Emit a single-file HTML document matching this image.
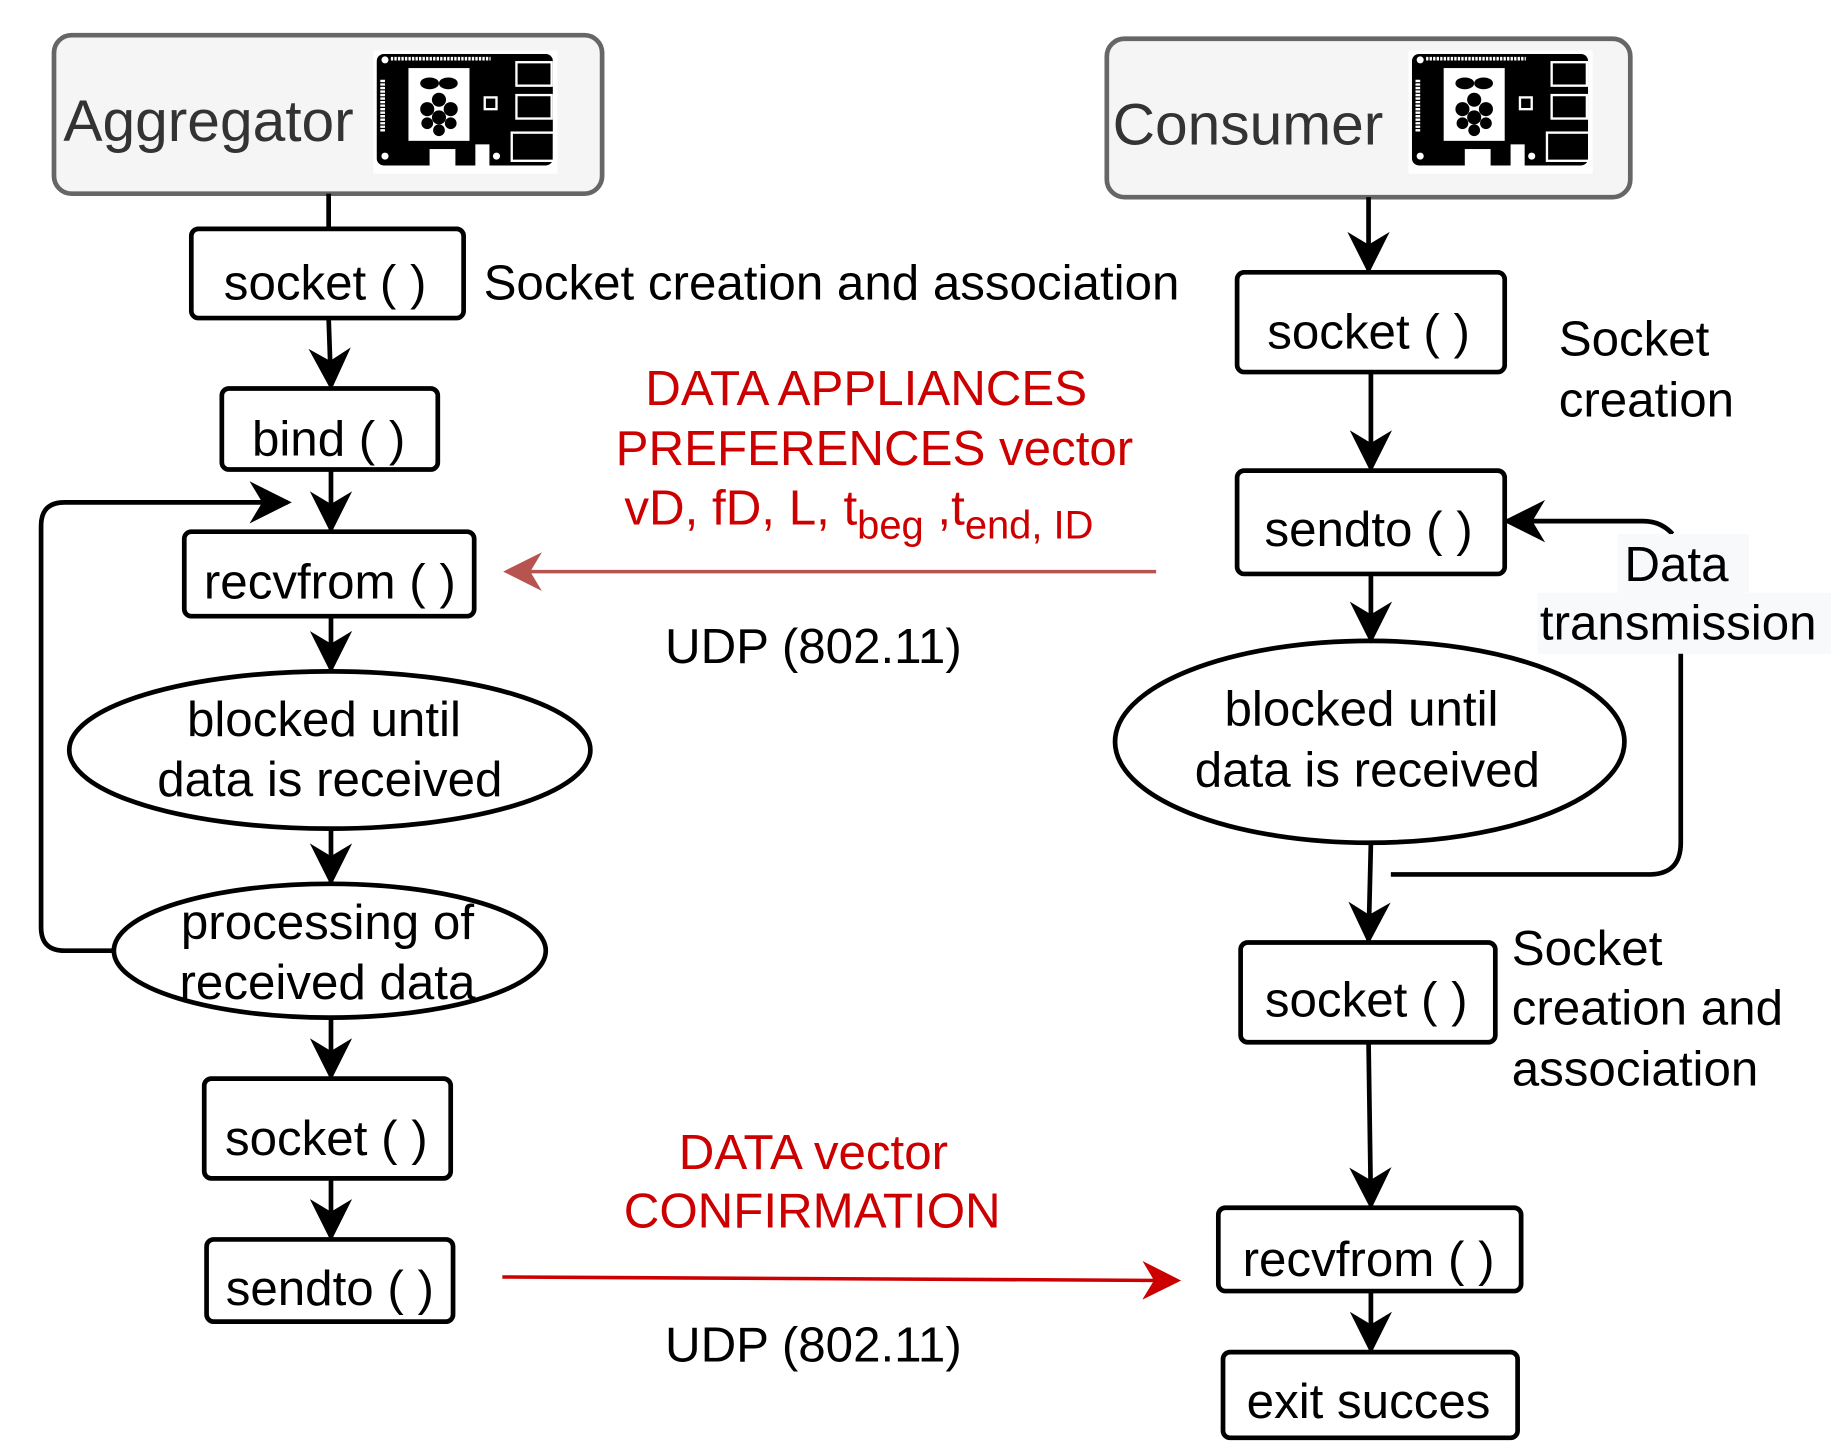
<!DOCTYPE html>
<html><head><meta charset="utf-8"><style>
html,body{margin:0;padding:0;background:#fff;}
svg{display:block;}
text{font-family:"Liberation Sans",Arial,sans-serif;font-size:42px;fill:#000;}
.r{fill:#cc0000;}
</style></head><body>
<svg width="1831" height="1450" viewBox="0 0 1560 1235.4" preserveAspectRatio="none" xmlns="http://www.w3.org/2000/svg">
<defs>
<marker id="a" markerWidth="9" markerHeight="9" refX="9" refY="5" orient="auto" markerUnits="strokeWidth" viewBox="0 0 10 10"><path d="M0,0 L10,5 L0,10 L3,5 z" fill="#000"/></marker>
<marker id="ar" markerWidth="11" markerHeight="11" refX="9" refY="5" orient="auto" markerUnits="strokeWidth" viewBox="0 0 10 10"><path d="M0,0 L10,5 L0,10 L3,5 z" fill="#cc0000"/></marker>
<marker id="ab" markerWidth="11" markerHeight="11" refX="9" refY="5" orient="auto" markerUnits="strokeWidth" viewBox="0 0 10 10"><path d="M0,0 L10,5 L0,10 L3,5 z" fill="#b85450"/></marker>
<g id="pi">
<rect x="0" y="0" width="157" height="105" fill="#fff"/>
<rect x="3" y="3" width="150" height="95" rx="6" fill="#000"/>
<rect x="30" y="15" width="52" height="62" fill="#fff"/>
<g fill="#000">
<circle cx="56" cy="42" r="6"/><circle cx="46" cy="50" r="6"/><circle cx="66" cy="50" r="6"/><circle cx="56" cy="57" r="6"/><circle cx="46" cy="62" r="5"/><circle cx="66" cy="62" r="5"/><circle cx="56" cy="68" r="5"/>
<ellipse cx="48" cy="28" rx="8" ry="5"/><ellipse cx="64" cy="28" rx="8" ry="5"/>
</g>
<rect x="95" y="40" width="10" height="10" fill="none" stroke="#fff" stroke-width="2"/>
<rect x="122" y="10" width="30" height="20" fill="none" stroke="#fff" stroke-width="2"/>
<rect x="122" y="38" width="30" height="20" fill="none" stroke="#fff" stroke-width="2"/>
<rect x="118" y="70" width="36" height="24" fill="none" stroke="#fff" stroke-width="2"/>
<line x1="15" y1="7" x2="100" y2="7" stroke="#fff" stroke-width="3" stroke-dasharray="2,1"/>
<line x1="8" y1="25" x2="8" y2="70" stroke="#fff" stroke-width="4" stroke-dasharray="2,1"/>
<rect x="48" y="84" width="22" height="14" fill="#fff"/><rect x="87" y="80" width="12" height="18" fill="#fff"/>
<circle cx="10" cy="8" r="3" fill="#fff"/><circle cx="10" cy="90" r="3" fill="#fff"/><circle cx="105" cy="90" r="3" fill="#fff"/>
</g>
</defs>

<rect x="46" y="30" width="467" height="135" rx="15" fill="#f5f5f5" stroke="#666" stroke-width="4"/>
<text x="54" y="120" style="font-size:50px;fill:#333">Aggregator</text>
<use href="#pi" x="318" y="43"/>
<rect x="943" y="33" width="446" height="135" rx="15" fill="#f5f5f5" stroke="#666" stroke-width="4"/>
<text x="948" y="123" style="font-size:50px;fill:#333">Consumer</text>
<use href="#pi" x="1200" y="43"/>

<g fill="#fff" stroke="#000" stroke-width="4">
<rect x="163" y="195" width="232" height="76" rx="6"/>
<rect x="189" y="331" width="184" height="69" rx="6"/>
<rect x="157" y="453" width="247" height="72" rx="6"/>
<ellipse cx="281" cy="639" rx="222" ry="67"/>
<ellipse cx="281" cy="810" rx="184" ry="57"/>
<rect x="174" y="919" width="210" height="85" rx="6"/>
<rect x="176" y="1056" width="210" height="70" rx="6"/>
<rect x="1054" y="232" width="228" height="85" rx="6"/>
<rect x="1054" y="401" width="228" height="88" rx="6"/>
<ellipse cx="1167" cy="632" rx="217" ry="86"/>
<rect x="1057" y="803" width="217" height="85" rx="6"/>
<rect x="1038" y="1029" width="258" height="71" rx="6"/>
<rect x="1042" y="1152" width="251" height="73" rx="6"/>
</g>

<g stroke="#000" stroke-width="4" fill="none">
<line x1="280" y1="165" x2="280" y2="195"/>
<line x1="280" y1="271" x2="282" y2="329" marker-end="url(#a)"/>
<line x1="282" y1="400" x2="282" y2="451" marker-end="url(#a)"/>
<line x1="282" y1="525" x2="282" y2="570" marker-end="url(#a)"/>
<line x1="282" y1="707" x2="282" y2="751" marker-end="url(#a)"/>
<line x1="282" y1="867" x2="282" y2="917" marker-end="url(#a)"/>
<line x1="282" y1="1004" x2="282" y2="1054" marker-end="url(#a)"/>
<path d="M98,810 L55,810 Q35,810 35,790 L35,448 Q35,428 55,428 L245,428" marker-end="url(#a)"/>
<line x1="1166" y1="168" x2="1166" y2="230" marker-end="url(#a)"/>
<line x1="1168" y1="317" x2="1168" y2="399" marker-end="url(#a)"/>
<line x1="1168" y1="489" x2="1168" y2="545" marker-end="url(#a)"/>
<line x1="1168" y1="718" x2="1166" y2="801" marker-end="url(#a)"/>
<line x1="1166" y1="888" x2="1168" y2="1027" marker-end="url(#a)"/>
<line x1="1168" y1="1100" x2="1168" y2="1150" marker-end="url(#a)"/>
<path d="M1185,745 L1405,745 Q1432,745 1432,718 L1432,555"/>
<path d="M1425,455 Q1415,444 1400,444 L1284,444" marker-end="url(#a)"/>
</g>
<line x1="985" y1="487" x2="432" y2="487" stroke="#b85450" stroke-width="3" marker-end="url(#ab)"/>
<line x1="428" y1="1088" x2="1003" y2="1091" stroke="#cc0000" stroke-width="3" marker-end="url(#ar)"/>

<rect x="1378" y="455" width="112" height="50" fill="#f8f9fa"/>
<rect x="1310" y="505" width="250" height="52" fill="#f8f9fa"/>

<g text-anchor="middle">
<text x="277" y="255">socket ( )</text>
<text x="280" y="388">bind ( )</text>
<text x="281" y="510">recvfrom ( )</text>
<text x="276" y="627">blocked until</text>
<text x="281" y="678">data is received</text>
<text x="279" y="800">processing of</text>
<text x="279" y="851">received data</text>
<text x="278" y="984">socket ( )</text>
<text x="281" y="1112">sendto ( )</text>
<text x="1166" y="297">socket ( )</text>
<text x="1166" y="465">sendto ( )</text>
<text x="1160" y="618">blocked until</text>
<text x="1165" y="670">data is received</text>
<text x="1164" y="866">socket ( )</text>
<text x="1166" y="1087">recvfrom ( )</text>
<text x="1166" y="1208">exit succes</text>
<text class="r" x="738" y="345">DATA APPLIANCES</text>
<text class="r" x="745" y="396">PREFERENCES vector</text>
<text class="r" x="693" y="996">DATA vector</text>
<text class="r" x="692" y="1046">CONFIRMATION</text>
<text x="693" y="565">UDP (802.11)</text>
<text x="693" y="1160">UDP (802.11)</text>
</g>
<text class="r" x="532" y="447">vD, fD, L, t<tspan dy="12" style="font-size:34px">beg</tspan><tspan dy="-12"> ,t</tspan><tspan dy="12" style="font-size:34px">end, ID</tspan></text>
<text x="412" y="255">Socket creation and association</text>
<text x="1328" y="303">Socket</text>
<text x="1328" y="355">creation</text>
<text x="1384" y="495">Data</text>
<text x="1312" y="545">transmission</text>
<text x="1288" y="822">Socket</text>
<text x="1288" y="873">creation and</text>
<text x="1288" y="925">association</text>
</svg>
</body></html>
